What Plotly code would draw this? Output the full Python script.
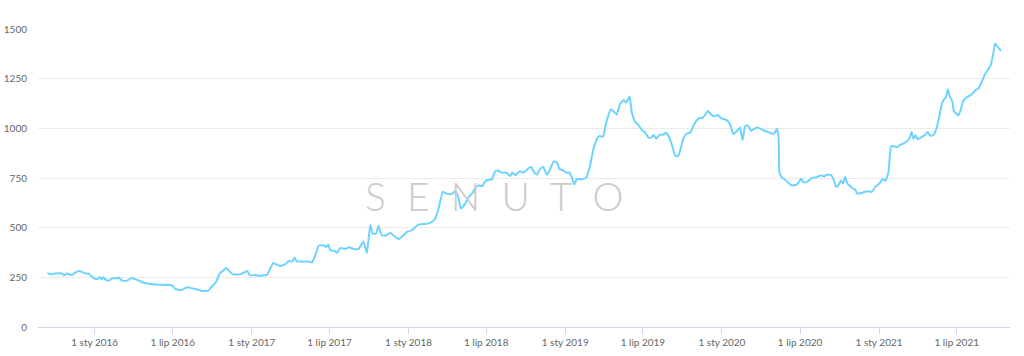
import plotly.graph_objects as go

dates = [
    "2015-09-13", "2015-09-19", "2015-10-01", "2015-10-17", "2015-10-22", "2015-10-27",
    "2015-11-09", "2015-11-21", "2015-11-28", "2015-12-10", "2015-12-18", "2015-12-29",
    "2016-01-07", "2016-01-13", "2016-01-17", "2016-01-21", "2016-01-26", "2016-02-03",
    "2016-02-11", "2016-02-22", "2016-02-26", "2016-03-05", "2016-03-16", "2016-03-28",
    "2016-04-09", "2016-04-24", "2016-05-10", "2016-06-02", "2016-06-25", "2016-07-01",
    "2016-07-07", "2016-07-22", "2016-08-03", "2016-08-18", "2016-08-30", "2016-09-07",
    "2016-09-22", "2016-09-30", "2016-10-10", "2016-10-18", "2016-10-27", "2016-11-02",
    "2016-11-12", "2016-11-19", "2016-12-03", "2016-12-09", "2016-12-21", "2016-12-28",
    "2017-01-09", "2017-01-17", "2017-02-05", "2017-02-13", "2017-02-20", "2017-03-08",
    "2017-03-20", "2017-03-28", "2017-04-05", "2017-04-11", "2017-04-16", "2017-05-02",
    "2017-05-13", "2017-05-21", "2017-05-29", "2017-06-06", "2017-06-17", "2017-06-23",
    "2017-06-28", "2017-07-03", "2017-07-13", "2017-07-18", "2017-07-26", "2017-08-07",
    "2017-08-16", "2017-08-26", "2017-09-07", "2017-09-18", "2017-09-26", "2017-10-04",
    "2017-10-09", "2017-10-17", "2017-10-23", "2017-10-31", "2017-11-11", "2017-11-19",
    "2017-11-29", "2017-12-09", "2017-12-20", "2017-12-28", "2018-01-09", "2018-01-24",
    "2018-02-09", "2018-02-20", "2018-03-03", "2018-03-12", "2018-03-22", "2018-04-01",
    "2018-04-12", "2018-04-20", "2018-04-27", "2018-05-03", "2018-05-13", "2018-05-21",
    "2018-05-29", "2018-06-05", "2018-06-13", "2018-06-21", "2018-06-29", "2018-07-09",
    "2018-07-14", "2018-07-22", "2018-07-30", "2018-08-07", "2018-08-17", "2018-08-26",
    "2018-08-30", "2018-09-07", "2018-09-17", "2018-09-26", "2018-10-06", "2018-10-14",
    "2018-10-21", "2018-10-27", "2018-11-04", "2018-11-11", "2018-11-19", "2018-11-25",
    "2018-12-05", "2018-12-13", "2018-12-19", "2018-12-27", "2019-01-03", "2019-01-11",
    "2019-01-17", "2019-01-22", "2019-01-28", "2019-02-09", "2019-02-19", "2019-02-27",
    "2019-03-08", "2019-03-16", "2019-03-22", "2019-03-30", "2019-04-06", "2019-04-17",
    "2019-04-25", "2019-05-01", "2019-05-09", "2019-05-17", "2019-05-23", "2019-05-31",
    "2019-06-05", "2019-06-13", "2019-06-21", "2019-06-29", "2019-07-05", "2019-07-14",
    "2019-07-20", "2019-07-26", "2019-08-01", "2019-08-09", "2019-08-18", "2019-08-23",
    "2019-08-31", "2019-09-08", "2019-09-14", "2019-09-20", "2019-09-26", "2019-10-03",
    "2019-10-11", "2019-10-19", "2019-10-27", "2019-11-07", "2019-11-18", "2019-11-29",
    "2019-12-05", "2019-12-12", "2019-12-22", "2020-01-01", "2020-01-12", "2020-01-20",
    "2020-01-28", "2020-02-05", "2020-02-12", "2020-02-18", "2020-02-24", "2020-03-01",
    "2020-03-09", "2020-03-17", "2020-03-25", "2020-04-03", "2020-04-14", "2020-04-26",
    "2020-05-02", "2020-05-08", "2020-05-12", "2020-05-14", "2020-05-20", "2020-05-27",
    "2020-06-04", "2020-06-11", "2020-06-21", "2020-06-27", "2020-07-04", "2020-07-09",
    "2020-07-19", "2020-07-28", "2020-08-09", "2020-08-19", "2020-08-26", "2020-09-01",
    "2020-09-11", "2020-09-17", "2020-09-23", "2020-09-28", "2020-10-04", "2020-10-09",
    "2020-10-14", "2020-10-19", "2020-10-26", "2020-11-01", "2020-11-06", "2020-11-11",
    "2020-11-21", "2020-12-04", "2020-12-15", "2020-12-23", "2021-01-02", "2021-01-10",
    "2021-01-16", "2021-01-23", "2021-01-29", "2021-02-05", "2021-02-12", "2021-02-18",
    "2021-02-26", "2021-03-08", "2021-03-14", "2021-03-18", "2021-03-22", "2021-03-27",
    "2021-04-01", "2021-04-10", "2021-04-18", "2021-04-24", "2021-04-30", "2021-05-07",
    "2021-05-15", "2021-05-21", "2021-05-27", "2021-06-01", "2021-06-06", "2021-06-10",
    "2021-06-15", "2021-06-20", "2021-06-25", "2021-07-01", "2021-07-05", "2021-07-10",
    "2021-07-16", "2021-07-24", "2021-08-01", "2021-08-07", "2021-08-13", "2021-08-20",
    "2021-08-28", "2021-09-05", "2021-09-12", "2021-09-18", "2021-09-24", "2021-09-28",
    "2021-10-03", "2021-10-08", "2021-10-12",
]

values = [
    272, 265, 269, 269, 260, 269,
    262, 279, 281, 269, 269, 247,
    240, 252, 240, 250, 240, 233,
    245, 245, 250, 233, 233, 247,
    237, 223, 216, 213, 211, 206,
    191, 186, 200, 193, 188, 181,
    183, 205, 227, 269, 285, 297,
    276, 265, 264, 269, 282, 260,
    262, 258, 262, 294, 322, 307,
    316, 332, 330, 349, 330, 330,
    330, 324, 361, 410, 410, 403,
    415, 386, 383, 373, 398, 393,
    401, 393, 393, 431, 373, 515,
    470, 470, 508, 462, 462, 475,
    457, 443, 460, 478, 487, 515,
    519, 524, 540, 596, 680, 670,
    670, 683, 654, 596, 621, 654,
    672, 697, 713, 708, 733, 742,
    742, 784, 786, 777, 777, 759,
    777, 764, 784, 777, 797, 805,
    777, 767, 797, 805, 767, 784,
    834, 827, 794, 789, 777, 777,
    750, 717, 744, 744, 752, 805,
    898, 948, 962, 957, 1024, 1096,
    1082, 1069, 1125, 1141, 1130, 1160,
    1082, 1032, 1015, 990, 982, 953,
    953, 967, 948, 968, 968, 979,
    956, 906, 864, 859, 889, 948,
    974, 977, 1015, 1049, 1054, 1087,
    1074, 1061, 1067, 1049, 1041, 1020,
    970, 987, 1004, 940, 1010, 1015,
    987, 999, 1004, 994, 984, 974,
    974, 999, 957, 780, 752, 742,
    725, 713, 715, 725, 747, 727,
    733, 749, 754, 764, 757, 766,
    766, 742, 705, 713, 738, 722,
    755, 722, 708, 697, 692, 672,
    675, 683, 680, 705, 722, 747,
    735, 780, 910, 910, 905, 915,
    923, 936, 956, 982, 948, 965,
    945, 956, 967, 982, 963, 965,
    999, 1057, 1121, 1145, 1158, 1197,
    1158, 1141, 1082, 1074, 1064, 1091,
    1138, 1155, 1166, 1175, 1192, 1200,
    1233, 1272, 1296, 1317, 1376, 1427,
    1413, 1401, 1389,
]

tick_dates = ["2016-01-01", "2016-07-01", "2017-01-01", "2017-07-01", "2018-01-01",
              "2018-07-01", "2019-01-01", "2019-07-01", "2020-01-01", "2020-07-01",
              "2021-01-01", "2021-07-01"]
tick_labels = ["1 sty 2016", "1 lip 2016", "1 sty 2017", "1 lip 2017", "1 sty 2018",
               "1 lip 2018", "1 sty 2019", "1 lip 2019", "1 sty 2020", "1 lip 2020",
               "1 sty 2021", "1 lip 2021"]
y_ticks = [0, 250, 500, 750, 1000, 1250, 1500]

fig = go.Figure()
fig.add_trace(go.Scatter(
    x=dates, y=values, mode="lines",
    line=dict(color="#6dd3ff", width=2, shape="spline", smoothing=0.4),
    hoverinfo="x+y", showlegend=False,
))

fig.add_annotation(
    text="S  E  N  U  T  O", xref="paper", yref="paper", x=0.469, y=0.44,
    showarrow=False, font=dict(family="Lato", size=39, color="#cbcbcb", weight=300),
)

fig.update_layout(
    width=1024, height=356,
    margin=dict(l=38, r=14, t=29, b=29),
    paper_bgcolor="white", plot_bgcolor="white",
    font=dict(family="Lato", size=10, color="#666666"),
    xaxis=dict(
        type="date", range=["2015-08-22", "2021-11-02"], automargin=False,
        tickvals=tick_dates, ticktext=tick_labels,
        showgrid=False, showline=True, linecolor="#ccd6eb", linewidth=1,
        ticks="outside", ticklen=6, tickcolor="#ccd6eb", zeroline=False,
        tickfont=dict(family="Lato", size=10, color="#666666"),
    ),
    yaxis=dict(
        range=[0, 1500], tickvals=y_ticks, showgrid=True, gridcolor="#ebebeb",
        gridwidth=1, zeroline=False, showline=False, ticks="", automargin=False,
        ticklabelstandoff=10,
        tickfont=dict(family="Lato", size=10, color="#666666"),
    ),
)

fig.write_html("out.html")
